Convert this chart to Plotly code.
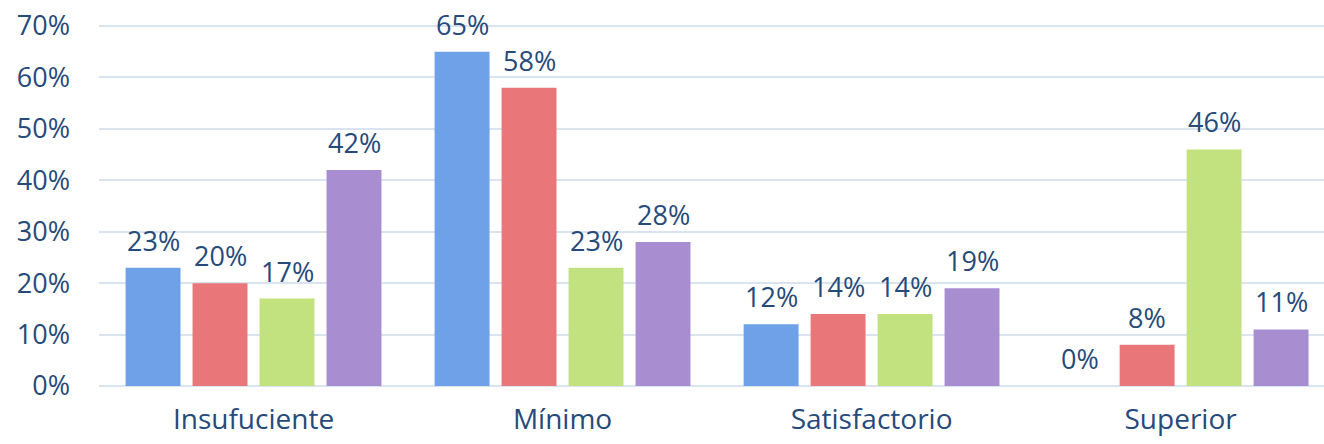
import plotly.graph_objects as go

categories = ["Insufuciente", "Mínimo", "Satisfactorio", "Superior"]
series_names = ["Serie 1", "Serie 2", "Serie 3", "Serie 4"]
serie1 = [23, 65, 12, 0]
serie2 = [20, 58, 14, 8]
serie3 = [17, 23, 14, 46]
serie4 = [42, 28, 19, 11]
y_ticks = [0, 10, 20, 30, 40, 50, 60, 70]

colors = ["#6FA1E8", "#E9777A", "#C2E17F", "#A88ED0"]
text_color = "#264A7A"
font_family = "'Open Sans', sans-serif"

all_series = [serie1, serie2, serie3, serie4]
n = len(all_series)
slot_px = 67  # horizontal pixel pitch between grouped bars

fig = go.Figure()
for name, vals, c in zip(series_names, all_series, colors):
    fig.add_trace(go.Bar(
        x=categories, y=vals, name=name,
        marker=dict(color=c, line=dict(width=0)),
        hovertemplate="%{x}: %{y}%<extra></extra>",
    ))

annotations = []
for i, vals in enumerate(all_series):
    for cat, v in zip(categories, vals):
        annotations.append(dict(
            x=cat, y=v, xref="x", yref="y", text=f"{v}%",
            showarrow=False, yanchor="bottom", xanchor="center",
            xshift=(i - (n - 1) / 2) * slot_px, yshift=7,
            font=dict(size=27, color=text_color, family=font_family),
        ))

fig.update_layout(
    width=1324, height=444,
    barmode="group", bargap=0.133, bargroupgap=0.18,
    plot_bgcolor="white", paper_bgcolor="white",
    margin=dict(l=99, r=0, t=25, b=58),
    showlegend=False,
    font=dict(family=font_family, color=text_color, size=27),
    annotations=annotations,
)
fig.update_xaxes(
    range=[-0.5, 3.464], showgrid=False, showline=False, zeroline=False,
    ticks="", ticklabelstandoff=14, tickfont=dict(size=28, color=text_color),
)
fig.update_yaxes(
    range=[0, 70.2], tickvals=y_ticks, ticktext=[f"{v}%" for v in y_ticks],
    showgrid=True, gridcolor="#DAE4F1", gridwidth=2,
    zeroline=True, zerolinecolor="#DAE4F1", zerolinewidth=2,
    ticks="", ticklabelstandoff=28, ticklabeloverflow="allow",
    tickfont=dict(size=27, color=text_color),
)

fig.write_html(
    "out.html",
    config={"displayModeBar": False},
    post_script="document.body.style.margin='0';",
)
